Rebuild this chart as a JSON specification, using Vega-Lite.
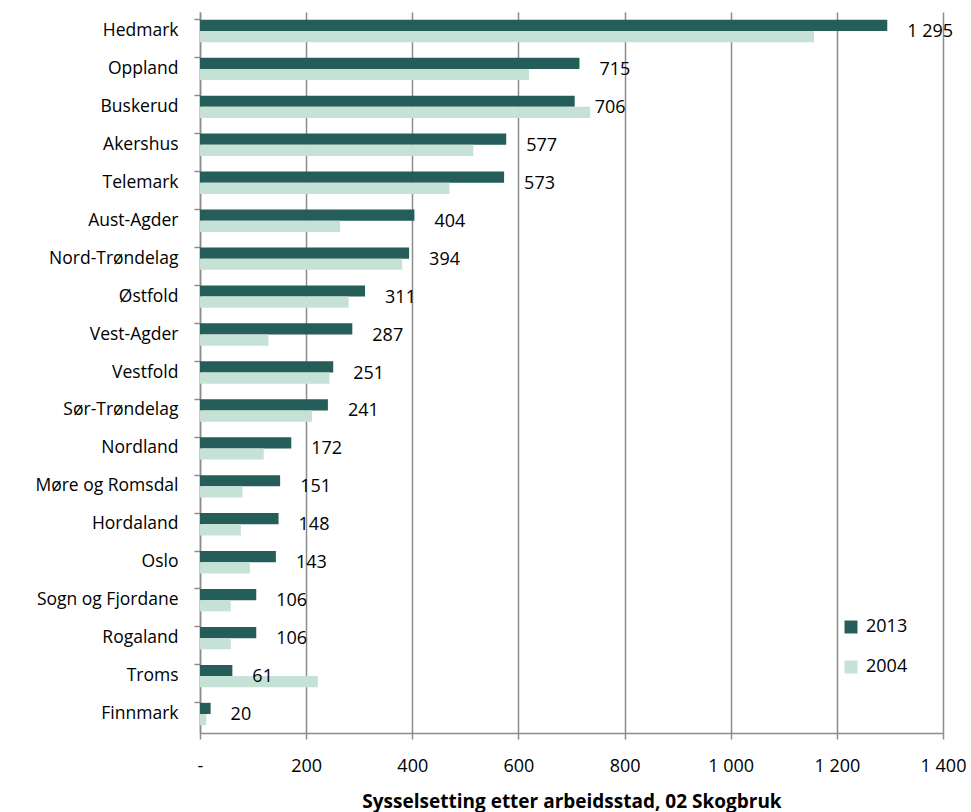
{
  "$schema": "https://vega.github.io/schema/vega-lite/v6.json",
  "width": 743,
  "height": 721,
  "autosize": {"type": "none"},
  "padding": {"left": 200, "top": 12, "right": 28, "bottom": 79},
  "config": {
    "locale": {"number": {"decimal": ",", "thousands": " ", "grouping": [3], "currency": ["", ""]}},
    "view": {"stroke": null},
    "font": "Open Sans",
    "text": {"font": "Open Sans"}
  },
  "data": {
    "values": [
      {"fylke": "Hedmark", "aar": "2013", "verdi": 1295},
      {"fylke": "Hedmark", "aar": "2004", "verdi": 1157},
      {"fylke": "Oppland", "aar": "2013", "verdi": 715},
      {"fylke": "Oppland", "aar": "2004", "verdi": 620},
      {"fylke": "Buskerud", "aar": "2013", "verdi": 706},
      {"fylke": "Buskerud", "aar": "2004", "verdi": 735},
      {"fylke": "Akershus", "aar": "2013", "verdi": 577},
      {"fylke": "Akershus", "aar": "2004", "verdi": 515},
      {"fylke": "Telemark", "aar": "2013", "verdi": 573},
      {"fylke": "Telemark", "aar": "2004", "verdi": 470},
      {"fylke": "Aust-Agder", "aar": "2013", "verdi": 404},
      {"fylke": "Aust-Agder", "aar": "2004", "verdi": 264},
      {"fylke": "Nord-Trøndelag", "aar": "2013", "verdi": 394},
      {"fylke": "Nord-Trøndelag", "aar": "2004", "verdi": 381},
      {"fylke": "Østfold", "aar": "2013", "verdi": 311},
      {"fylke": "Østfold", "aar": "2004", "verdi": 280},
      {"fylke": "Vest-Agder", "aar": "2013", "verdi": 287},
      {"fylke": "Vest-Agder", "aar": "2004", "verdi": 129},
      {"fylke": "Vestfold", "aar": "2013", "verdi": 251},
      {"fylke": "Vestfold", "aar": "2004", "verdi": 244},
      {"fylke": "Sør-Trøndelag", "aar": "2013", "verdi": 241},
      {"fylke": "Sør-Trøndelag", "aar": "2004", "verdi": 211},
      {"fylke": "Nordland", "aar": "2013", "verdi": 172},
      {"fylke": "Nordland", "aar": "2004", "verdi": 120},
      {"fylke": "Møre og Romsdal", "aar": "2013", "verdi": 151},
      {"fylke": "Møre og Romsdal", "aar": "2004", "verdi": 80},
      {"fylke": "Hordaland", "aar": "2013", "verdi": 148},
      {"fylke": "Hordaland", "aar": "2004", "verdi": 77},
      {"fylke": "Oslo", "aar": "2013", "verdi": 143},
      {"fylke": "Oslo", "aar": "2004", "verdi": 94},
      {"fylke": "Sogn og Fjordane", "aar": "2013", "verdi": 106},
      {"fylke": "Sogn og Fjordane", "aar": "2004", "verdi": 58},
      {"fylke": "Rogaland", "aar": "2013", "verdi": 106},
      {"fylke": "Rogaland", "aar": "2004", "verdi": 58},
      {"fylke": "Troms", "aar": "2013", "verdi": 61},
      {"fylke": "Troms", "aar": "2004", "verdi": 222},
      {"fylke": "Finnmark", "aar": "2013", "verdi": 20},
      {"fylke": "Finnmark", "aar": "2004", "verdi": 12}
    ]
  },
  "layer": [
    {
      "mark": {"type": "bar"},
      "encoding": {
        "y": {
          "field": "fylke",
          "type": "nominal",
          "sort": ["Hedmark", "Oppland", "Buskerud", "Akershus", "Telemark", "Aust-Agder", "Nord-Trøndelag", "Østfold", "Vest-Agder", "Vestfold", "Sør-Trøndelag", "Nordland", "Møre og Romsdal", "Hordaland", "Oslo", "Sogn og Fjordane", "Rogaland", "Troms", "Finnmark"],
          "scale": {"paddingInner": 0.41, "paddingOuter": 0.205},
          "axis": {
            "title": null,
            "bandPosition": 0,
            "domainColor": "#8c8c8c",
            "domainWidth": 1.5,
            "tickColor": "#8c8c8c",
            "tickWidth": 1.5,
            "tickSize": 6,
            "labelFontSize": 17.5,
            "labelColor": "#000000",
            "labelPadding": 16,
            "labelFont": "Open Sans"
          }
        },
        "yOffset": {
          "field": "aar",
          "type": "nominal",
          "sort": ["2013", "2004"],
          "scale": {"paddingInner": 0, "paddingOuter": 0}
        },
        "x": {
          "field": "verdi",
          "type": "quantitative",
          "scale": {"domain": [0, 1400], "nice": false},
          "axis": {
            "values": [0, 200, 400, 600, 800, 1000, 1200, 1400],
            "labelExpr": "datum.value == 0 ? '-' : format(datum.value, ',')",
            "labelFlush": false,
            "grid": true,
            "gridColor": "#8c8c8c",
            "gridWidth": 1.5,
            "domainColor": "#8c8c8c",
            "domainWidth": 1.5,
            "tickColor": "#8c8c8c",
            "tickWidth": 1.5,
            "tickSize": 6,
            "labelFontSize": 18,
            "labelColor": "#000000",
            "labelPadding": 18,
            "labelFont": "Open Sans",
            "title": "Sysselsetting etter arbeidsstad, 02 Skogbruk",
            "titleFont": "Open Sans",
            "titleFontSize": 19,
            "titleFontWeight": "bold",
            "titleColor": "#000000",
            "titlePadding": 17
          }
        },
        "color": {
          "field": "aar",
          "type": "nominal",
          "scale": {"domain": ["2013", "2004"], "range": ["#255E58", "#C6E2D7"]},
          "legend": {
            "title": null,
            "orient": "none",
            "legendX": 642,
            "legendY": 606,
            "padding": 0,
            "symbolType": "square",
            "symbolSize": 169,
            "symbolStrokeWidth": 0,
            "symbolOpacity": 1,
            "labelFontSize": 18,
            "labelFont": "Open Sans",
            "labelColor": "#000000",
            "labelOffset": 6,
            "rowPadding": 22
          }
        }
      }
    },
    {
      "transform": [{"filter": "datum.aar == '2013'"}],
      "mark": {"type": "text", "align": "left", "baseline": "middle", "dx": 20, "dy": 1, "fontSize": 18, "font": "Open Sans", "color": "#000000"},
      "encoding": {
        "y": {
          "field": "fylke",
          "type": "nominal",
          "sort": ["Hedmark", "Oppland", "Buskerud", "Akershus", "Telemark", "Aust-Agder", "Nord-Trøndelag", "Østfold", "Vest-Agder", "Vestfold", "Sør-Trøndelag", "Nordland", "Møre og Romsdal", "Hordaland", "Oslo", "Sogn og Fjordane", "Rogaland", "Troms", "Finnmark"]
        },
        "x": {"field": "verdi", "type": "quantitative"},
        "text": {"field": "verdi", "type": "quantitative", "format": ","}
      }
    }
  ]
}
